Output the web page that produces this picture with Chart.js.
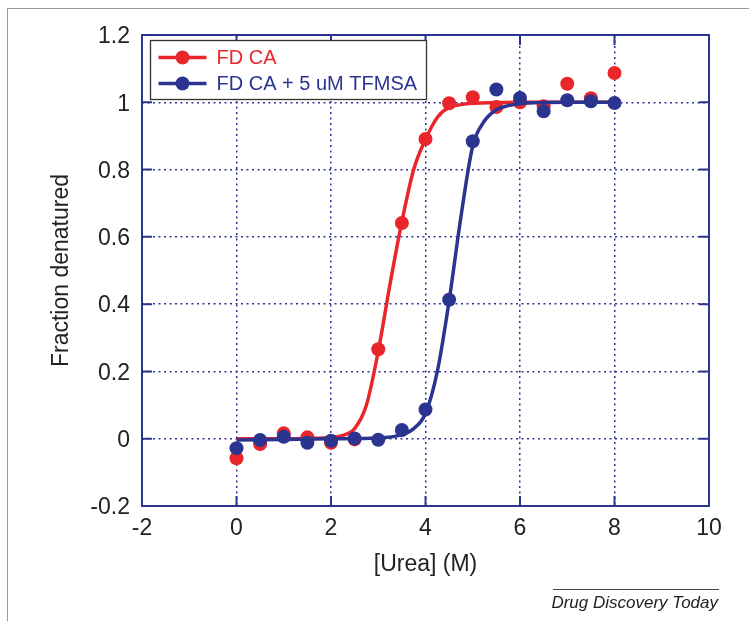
<!DOCTYPE html>
<html>
<head>
<meta charset="utf-8">
<title>Fraction denatured vs urea</title>
<script src="https://cdn.jsdelivr.net/npm/chart.js@4"></script>
<style>
  html, body { margin: 0; padding: 0; background: #fff; }
  #wrap { position: relative; width: 749px; height: 621px; overflow: hidden; }
  #frame { position: absolute; left: 7px; top: 8px; right: -2px; bottom: 0px;
           border-top: 1px solid #9a9a9a; border-left: 1px solid #9a9a9a; }
  #c { position: absolute; left: 0; top: 0; }
  #rule { position: absolute; left: 553px; top: 589px; width: 166px; border-top: 1px solid #444; }
  #source { position: absolute; right: 31px; top: 593px; font: italic 17px "Liberation Sans", Arial, sans-serif;
            line-height: 20px; color: #222; }
</style>
</head>
<body>
<div id="wrap">
  <div id="frame"></div>
  <canvas id="c" width="749" height="621"></canvas>
  <div id="rule"></div>
  <div id="source">Drug Discovery Today</div>
</div>
<script>
// valeurs
const urea = [0, 0.5, 1, 1.5, 2, 2.5, 3, 3.5, 4, 4.5, 5, 5.5, 6, 6.5, 7, 7.5, 8];
const fdCa = [-0.058, -0.016, 0.016, 0.004, -0.012, -0.002, 0.266, 0.641, 0.891, 0.997, 1.015, 0.986, 1.0, 0.988, 1.055, 1.012, 1.087];
const fdCaTfmsa = [-0.028, -0.004, 0.006, -0.012, -0.006, 0.001, -0.003, 0.026, 0.087, 0.413, 0.884, 1.038, 1.013, 0.973, 1.006, 1.003, 0.998];

// courbes ajustées, relevées point par point
const fitCaX = [0, 1, 1.5, 2, 2.25, 2.5, 2.75, 3, 3.25, 3.5, 3.75, 4, 4.25, 4.5, 4.75, 5, 5.5, 6, 7, 8];
const fitCaY = [0, 0, 0.001, 0.004, 0.01, 0.03, 0.1, 0.26, 0.46, 0.645, 0.8, 0.89, 0.955, 0.985, 0.993, 0.997, 0.999, 1, 1, 1];
const fitTfX = [0, 1, 2, 3, 3.5, 3.75, 4, 4.25, 4.5, 4.75, 5, 5.25, 5.5, 5.75, 6, 7, 8];
const fitTfY = [-0.004, -0.002, 0, 0.002, 0.012, 0.03, 0.075, 0.2, 0.41, 0.66, 0.87, 0.945, 0.978, 0.99, 0.996, 1, 1];

const xTicks = [-2, 0, 2, 4, 6, 8, 10];
const yTicks = [-0.2, 0, 0.2, 0.4, 0.6, 0.8, 1, 1.2];
const labels = ['FD CA', 'FD CA + 5 uM TFMSA'];

const RED = '#e8262b';
const BLUE = '#2b3590';
const FONT = '"Liberation Sans", Arial, sans-serif';

const pts = (xs, ys) => xs.map((x, i) => ({ x: x, y: ys[i] }));

// cadre, graduations intérieures et légende
const decor = {
  id: 'decor',
  afterDraw(chart) {
    const { ctx, chartArea: a, scales: { x, y } } = chart;
    ctx.save();
    ctx.strokeStyle = BLUE;
    ctx.lineWidth = 2;
    ctx.setLineDash([]);
    ctx.strokeRect(a.left, a.top, a.right - a.left, a.bottom - a.top);
    const tl = 10;
    ctx.beginPath();
    xTicks.forEach(v => {
      const px = x.getPixelForValue(v);
      ctx.moveTo(px, a.bottom); ctx.lineTo(px, a.bottom - tl);
      ctx.moveTo(px, a.top); ctx.lineTo(px, a.top + tl);
    });
    yTicks.forEach(v => {
      const py = y.getPixelForValue(v);
      ctx.moveTo(a.left, py); ctx.lineTo(a.left + tl, py);
      ctx.moveTo(a.right, py); ctx.lineTo(a.right - tl, py);
    });
    ctx.stroke();

    // légende
    const bx = a.left + 8.5, by = a.top + 5.5, bw = 276, bh = 59;
    ctx.fillStyle = '#fff';
    ctx.fillRect(bx, by, bw, bh);
    ctx.strokeStyle = '#333';
    ctx.lineWidth = 1.3;
    ctx.strokeRect(bx, by, bw, bh);
    [RED, BLUE].forEach((col, i) => {
      const ry = by + 17 + i * 26;
      ctx.strokeStyle = col;
      ctx.lineWidth = 3.5;
      ctx.beginPath();
      ctx.moveTo(bx + 8, ry); ctx.lineTo(bx + 56, ry);
      ctx.stroke();
      ctx.fillStyle = col;
      ctx.beginPath();
      ctx.arc(bx + 32, ry, 7, 0, Math.PI * 2);
      ctx.fill();
      ctx.font = '20px ' + FONT;
      ctx.textBaseline = 'middle';
      ctx.textAlign = 'left';
      ctx.fillText(labels[i], bx + 66, ry + 1);
    });
    ctx.restore();
  }
};

new Chart(document.getElementById('c'), {
  type: 'scatter',
  data: {
    datasets: [
      { label: labels[0] + ' fit', data: pts(fitCaX, fitCaY), showLine: true, borderColor: RED, borderWidth: 3.5,
        pointRadius: 0, cubicInterpolationMode: 'monotone', order: 4 },
      { label: labels[0], data: pts(urea, fdCa), backgroundColor: RED, borderWidth: 0, pointRadius: 7, order: 3 },
      { label: labels[1] + ' fit', data: pts(fitTfX, fitTfY), showLine: true, borderColor: BLUE, borderWidth: 3.5,
        pointRadius: 0, cubicInterpolationMode: 'monotone', order: 2 },
      { label: labels[1], data: pts(urea, fdCaTfmsa), backgroundColor: BLUE, borderWidth: 0, pointRadius: 7, order: 1 }
    ]
  },
  options: {
    responsive: false,
    animation: false,
    layout: { padding: { left: 0, right: 40, top: 35, bottom: 0 } },
    plugins: { legend: { display: false }, tooltip: { enabled: false } },
    scales: {
      x: {
        type: 'linear', min: -2, max: 10,
        afterBuildTicks: s => { s.ticks = xTicks.map(v => ({ value: v })); },
        afterFit: s => { s.height = 115; },
        grid: { color: BLUE, lineWidth: 1.5, drawTicks: false },
        border: { display: false, dash: [2, 3.5] },
        ticks: { color: '#222', font: { family: FONT, size: 23 }, padding: 9, callback: v => String(v) },
        title: { display: true, text: '[Urea] (M)', color: '#222', font: { family: FONT, size: 23 },
                 padding: { top: 0, bottom: 43 } }
      },
      y: {
        type: 'linear', min: -0.2, max: 1.2,
        afterBuildTicks: s => { s.ticks = yTicks.map(v => ({ value: v })); },
        afterFit: s => { s.width = 142; },
        grid: { color: BLUE, lineWidth: 1.5, drawTicks: false },
        border: { display: false, dash: [2, 3.5] },
        ticks: { color: '#222', font: { family: FONT, size: 23 }, padding: 12, labelOffset: 2,
                 callback: v => String(v) },
        title: { display: true, text: 'Fraction denatured', color: '#222', font: { family: FONT, size: 23 },
                 padding: { top: 48, bottom: 0 } }
      }
    }
  },
  plugins: [decor]
});
</script>
</body>
</html>
